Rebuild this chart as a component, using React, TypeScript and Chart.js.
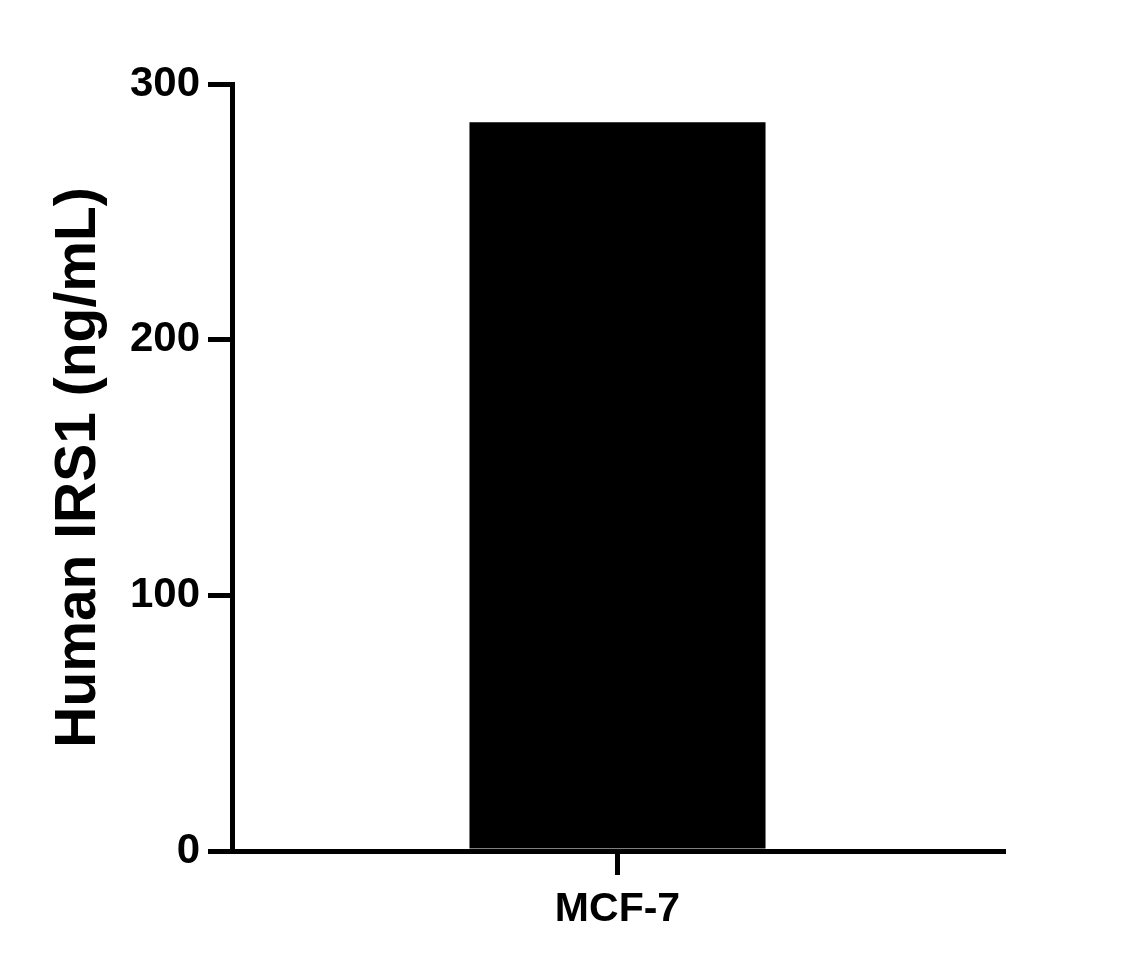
import { Chart, registerables } from "chart.js";
import { useEffect, useRef } from "react";

Chart.register(...registerables);

const categories = ["MCF-7"];
const irs1Values = [285];
const yTicks = [0, 100, 200, 300];

const FONT = "'Liberation Sans', Arial, sans-serif";

export default function App() {
  const canvasRef = useRef<HTMLCanvasElement | null>(null);
  const chartRef = useRef<Chart | null>(null);

  useEffect(() => {
    document.body.style.margin = "0";
    if (!canvasRef.current) return;
    chartRef.current?.destroy();

    chartRef.current = new Chart(canvasRef.current, {
      type: "bar",
      data: {
        labels: categories,
        datasets: [
          {
            label: "Human IRS1",
            data: irs1Values,
            backgroundColor: "#000",
            borderWidth: 0,
            categoryPercentage: 1,
            barPercentage: 0.384,
          },
        ],
      },
      options: {
        animation: false,
        responsive: false,
        devicePixelRatio: 1,
        layout: { padding: { left: 8, top: 84, right: 137, bottom: 0 } },
        plugins: { legend: { display: false }, tooltip: { enabled: false } },
        scales: {
          x: {
            afterFit: (scale: any) => {
              scale.height = 117;
            },
            grid: {
              offset: false,
              drawOnChartArea: false,
              color: "#000",
              lineWidth: 5,
              tickLength: 24,
            },
            border: { display: true, color: "#000", width: 5 },
            ticks: {
              color: "#000",
              padding: 10,
              font: { family: FONT, size: 41, weight: "bold" },
            },
          },
          y: {
            min: 0,
            max: 300,
            afterFit: (scale: any) => {
              scale.width = 224;
            },
            afterBuildTicks: (scale: any) => {
              scale.ticks = yTicks.map((v) => ({ value: v }));
            },
            grid: {
              drawOnChartArea: false,
              color: "#000",
              lineWidth: 5,
              tickLength: 24,
            },
            border: { display: true, color: "#000", width: 5 },
            ticks: {
              color: "#000",
              padding: 8,
              font: { family: FONT, size: 42, weight: "bold" },
            },
            title: {
              display: true,
              text: "Human IRS1 (ng/mL)",
              color: "#000",
              padding: 37,
              font: { family: FONT, size: 57, weight: "bold" },
            },
          },
        },
      },
    });

    return () => {
      chartRef.current?.destroy();
      chartRef.current = null;
    };
  }, []);

  return (
    <div style={{ width: 1140, height: 968, background: "#fff" }}>
      <canvas ref={canvasRef} width={1140} height={968} />
    </div>
  );
}
